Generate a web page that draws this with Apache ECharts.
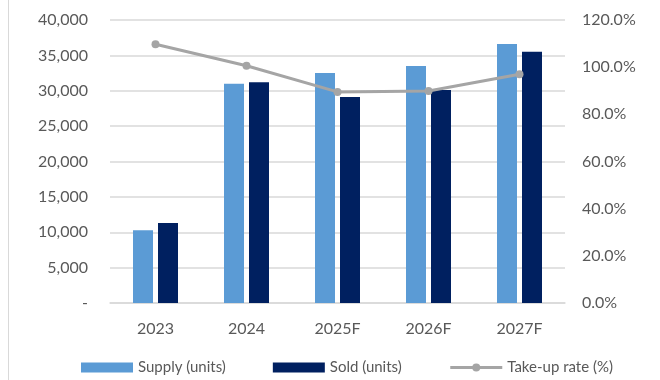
<!DOCTYPE html>
<html>
<head>
<meta charset="utf-8">
<script src="https://cdn.jsdelivr.net/npm/echarts@6/dist/echarts.min.js"></script>
<style>
  html, body { margin: 0; padding: 0; background: #fff; }
  #chart { width: 660px; height: 380px; }
</style>
</head>
<body>
<div id="chart"></div>
<script>
const years = ['2023', '2024', '2025F', '2026F', '2027F'];
const supplyUnits = [10300, 31000, 32500, 33500, 36600];
const soldUnits = [11300, 31200, 29100, 30100, 35500];
const takeUpRate = [109.7, 100.6, 89.5, 89.9, 97.0];

const chart = echarts.init(document.getElementById('chart'), null, { renderer: 'canvas' });
const font = 'Lato, "Open Sans", sans-serif';
const textColor = '#595959';

chart.setOption({
  animation: false,
  textStyle: { fontFamily: font },
  graphic: [{
    type: 'line',
    shape: { x1: 8.5, y1: 0, x2: 8.5, y2: 380 },
    style: { stroke: '#D9D9D9', lineWidth: 1 }
  }],
  grid: { left: 110, right: 95, top: 20, bottom: 77 },
  legend: {
    top: 355,
    left: 76,
    itemWidth: 52,
    itemHeight: 10,
    itemGap: 47,
    lineStyle: { width: 3 },
    textStyle: { fontFamily: font, fontSize: 15, color: textColor },
    data: [
      { name: 'Supply (units)', icon: 'rect' },
      { name: 'Sold (units)', icon: 'rect' },
      { name: 'Take-up rate (%)', lineStyle: { width: 3, color: '#A5A5A5' }, itemStyle: { color: '#A5A5A5' } }
    ]
  },
  xAxis: {
    type: 'category',
    data: years,
    axisLine: { lineStyle: { color: '#D9D9D9', width: 1.5 } },
    axisTick: { show: false },
    axisLabel: { color: textColor, fontSize: 16, fontFamily: font, margin: 18 }
  },
  yAxis: [{
    type: 'value',
    min: 0, max: 40000, interval: 5000,
    axisLine: { show: false },
    axisTick: { show: false },
    splitLine: { lineStyle: { color: '#D9D9D9', width: 1.5 } },
    axisLabel: {
      color: textColor, fontSize: 16, fontFamily: font, margin: 22,
      formatter: v => v === 0 ? '-' : v.toLocaleString('en-US')
    }
  }, {
    type: 'value',
    min: 0, max: 120, interval: 20,
    axisLine: { show: false },
    axisTick: { show: false },
    splitLine: { show: false },
    axisLabel: {
      color: textColor, fontSize: 16, fontFamily: font, margin: 17,
      formatter: v => v.toFixed(1) + '%'
    }
  }],
  series: [{
    name: 'Supply (units)',
    type: 'bar',
    data: supplyUnits,
    barWidth: 20,
    barGap: '25%',
    itemStyle: { color: '#5B9BD5' }
  }, {
    name: 'Sold (units)',
    type: 'bar',
    data: soldUnits,
    barWidth: 20,
    itemStyle: { color: '#002060' }
  }, {
    name: 'Take-up rate (%)',
    type: 'line',
    yAxisIndex: 1,
    data: takeUpRate,
    symbol: 'circle',
    symbolSize: 8,
    lineStyle: { color: '#A5A5A5', width: 3 },
    itemStyle: { color: '#A5A5A5' }
  }]
});
</script>
</body>
</html>
